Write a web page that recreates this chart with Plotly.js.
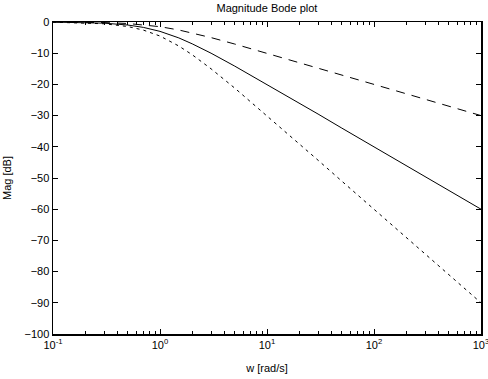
<!DOCTYPE html>
<html><head><meta charset="utf-8">
<script src="https://cdn.plot.ly/plotly-3.0.1.min.js"></script>
<style>html,body{margin:0;padding:0;background:#fff;overflow:hidden}</style>
</head><body><div id="plot" style="width:488px;height:379px"></div>
<script>
var w = [0.1, 0.2, 0.3, 0.5, 0.7, 1, 1.5, 2, 3, 5, 7, 10, 20, 30, 50, 70, 100, 200, 300, 500, 700, 1000];
var magFirst = [-0.02, -0.09, -0.19, -0.48, -0.87, -1.5, -2.56, -3.5, -5.0, -7.07, -8.5, -10.0, -13.0, -14.8, -17.0, -18.45, -20.0, -23.0, -24.8, -27.0, -28.45, -30.0];
var magSecond = [-0.04, -0.17, -0.37, -0.97, -1.73, -3.0, -5.1, -7.0, -10.0, -14.15, -17.0, -20.0, -26.0, -29.5, -34.0, -36.9, -40.0, -46.0, -49.5, -54.0, -56.9, -60.0];
var magThird = [-0.06, -0.26, -0.56, -1.45, -2.6, -4.5, -7.7, -10.5, -15.0, -21.2, -25.5, -30.0, -39.0, -44.3, -51.0, -55.35, -60.0, -69.0, -74.3, -81.0, -85.4, -90.0];
var xTickVals = [0.1, 1, 10, 100, 1000];
var xTickText = ['10<sup>-1</sup>', '10<sup>0</sup>', '10<sup>1</sup>', '10<sup>2</sup>', '10<sup>3</sup>'];
var yTickVals = [0, -10, -20, -30, -40, -50, -60, -70, -80, -90, -100];

var traces = [
  {x: w, y: magFirst, mode: 'lines', line: {color: '#000', width: 1, dash: '9px,7px'}},
  {x: w, y: magSecond, mode: 'lines', line: {color: '#000', width: 1}},
  {x: w, y: magThird, mode: 'lines', line: {color: '#000', width: 1, dash: '3px,4px'}}
];
var font = {family: 'Liberation Sans, Arial, sans-serif', size: 11, color: '#000'};
var layout = {
  width: 488, height: 379,
  margin: {l: 53, r: 7, t: 22, b: 45},
  showlegend: false,
  paper_bgcolor: '#fff', plot_bgcolor: '#fff',
  font: font,
  title: {text: 'Magnitude Bode plot', font: {family: font.family, size: 11, color: '#000'}, x: 0.547, xanchor: 'center', y: 0.978, yanchor: 'middle'},
  xaxis: {
    type: 'log', range: [-1, 3], tickvals: xTickVals, ticktext: xTickText,
    ticks: 'inside', ticklen: 5, tickcolor: '#000', showline: true, linecolor: '#000', linewidth: 1.5,
    mirror: 'ticks', showgrid: false, zeroline: false, ticklabeloverflow: 'allow',
    minor: {ticks: 'inside', ticklen: 3, tickcolor: '#000', tickvals: [0.2,0.3,0.4,0.5,0.6,0.7,0.8,0.9,2,3,4,5,6,7,8,9,20,30,40,50,60,70,80,90,200,300,400,500,600,700,800,900]},
    title: {text: 'w [rad/s]', font: font, standoff: 14},
    tickfont: font
  },
  yaxis: {
    range: [-100, 0], tickvals: yTickVals,
    ticks: 'inside', ticklen: 5, tickcolor: '#000', showline: true, linecolor: '#000', linewidth: 1.5,
    mirror: 'ticks', showgrid: false, zeroline: false,
    title: {text: 'Mag [dB]', font: font, standoff: 10},
    tickfont: font
  }
};
Plotly.newPlot('plot', traces, layout, {displayModeBar: false, staticPlot: true});
</script></body></html>
